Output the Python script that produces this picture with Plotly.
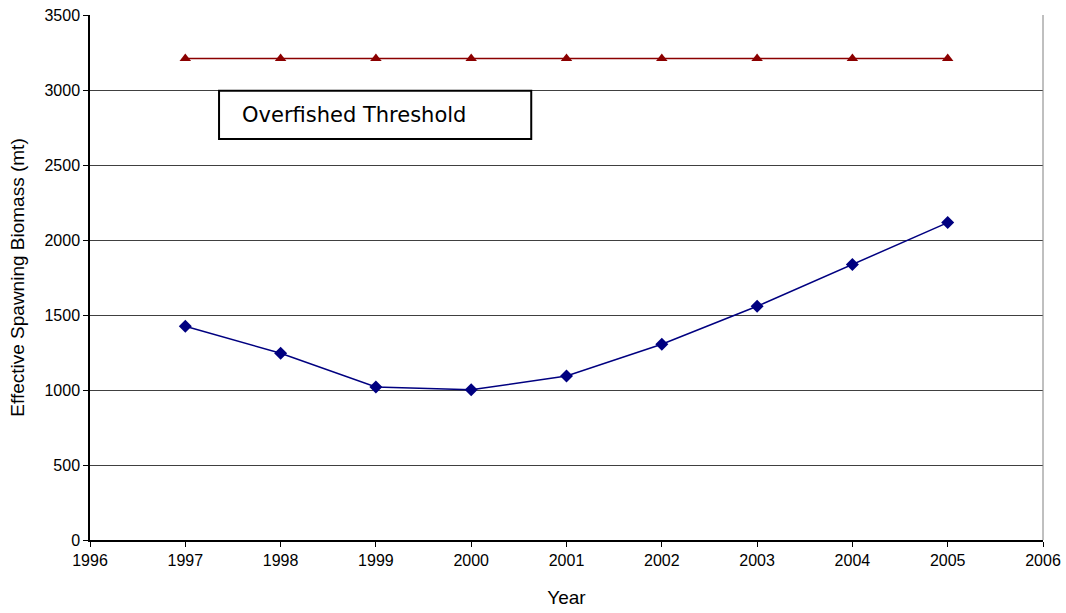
import plotly.graph_objects as go

years = [1997, 1998, 1999, 2000, 2001, 2002, 2003, 2004, 2005]
biomass = [1425, 1245, 1020, 1002, 1093, 1305, 1558, 1836, 2116]
threshold = [3210] * 9
label_text = "Overfished Threshold"

fig = go.Figure()
fig.add_trace(go.Scatter(x=years, y=biomass, mode="lines+markers",
                         line=dict(color="#000080", width=1.5),
                         marker=dict(symbol="diamond", size=10, color="#000080"),
                         showlegend=False, cliponaxis=False))
fig.add_trace(go.Scatter(x=years, y=threshold, mode="lines+markers",
                         line=dict(color="#8B0000", width=1.5),
                         marker=dict(symbol="triangle-up", size=10, color="#8B0000"),
                         showlegend=False, cliponaxis=False))

fig.add_shape(type="rect", xref="x", yref="y", x0=1997.354, x1=2000.63, y0=2673, y1=2995,
              line=dict(color="black", width=2), fillcolor="white", layer="above")
fig.add_annotation(x=1997.57, y=2834, xref="x", yref="y", text=label_text, showarrow=False,
                   xanchor="left", yanchor="middle",
                   font=dict(family="DejaVu Sans", size=21, color="black"))
# right border
fig.add_shape(type="line", xref="paper", yref="paper", x0=1, x1=1, y0=0, y1=1,
              line=dict(color="#808080", width=1))

fig.update_layout(
    width=1066, height=613,
    margin=dict(l=90, r=23, t=15, b=73),
    paper_bgcolor="white", plot_bgcolor="white",
    font=dict(family="Liberation Sans, Arial", size=16, color="black"),
)
fig.update_xaxes(range=[1996, 2006], tick0=1996, dtick=1, showgrid=False, automargin=False,
                 showline=True, linecolor="black", linewidth=1.5,
                 ticks="outside", ticklen=5, tickcolor="black",
                 title=dict(text="Year", standoff=23), zeroline=False)
fig.update_yaxes(range=[0, 3500], tick0=0, dtick=500, showgrid=True, gridcolor="#404040", gridwidth=1,
                 automargin=False,
                 showline=True, linecolor="black", linewidth=1.5,
                 ticks="outside", ticklen=5, tickcolor="black",
                 title=dict(text="Effective Spawning Biomass (mt)", standoff=15), zeroline=False)

fig.write_html("out.html", config={"displayModeBar": False},
               post_script="document.body.style.margin='0px';")
